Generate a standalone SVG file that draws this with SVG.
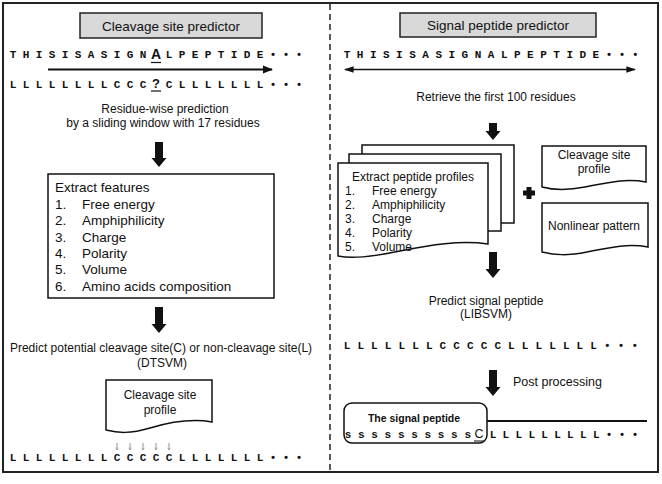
<svg xmlns="http://www.w3.org/2000/svg" width="662" height="484" viewBox="0 0 662 484">
<style>
.t{font-family:"Liberation Sans",Arial,sans-serif;font-size:12px;fill:#111}
.tc{text-anchor:middle}
.ti{font-family:"Liberation Sans",Arial,sans-serif;font-size:13.5px;fill:#111;text-anchor:middle}
.fl{font-family:"Liberation Sans",Arial,sans-serif;font-size:13.5px;fill:#111}
.sq{font-family:"Liberation Mono","Courier New",monospace;font-weight:bold;font-size:11px;fill:#111;text-anchor:middle}
.box{fill:#fff;stroke:#111;stroke-width:1.5}
.tbox{fill:#d9d9d9;stroke:#222;stroke-width:1.5}
.big{fill:#111}
.thin{stroke:#111;fill:none}
.tiny{stroke:#777;stroke-width:0.8;fill:none}
</style>
<defs>
<marker id="ah" viewBox="0 0 10 10" refX="9" refY="5" markerWidth="5" markerHeight="5" orient="auto-start-reverse" markerUnits="strokeWidth">
<path d="M0,1 L10,5 L0,9 Z" fill="#111"/>
</marker>
<marker id="ah2" viewBox="0 0 10 10" refX="9" refY="5" markerWidth="6" markerHeight="6" orient="auto-start-reverse" markerUnits="strokeWidth">
<path d="M0,1.5 L10,5 L0,8.5 Z" fill="#111"/>
</marker>
<marker id="tiny" viewBox="0 0 10 10" refX="5" refY="9" markerWidth="4" markerHeight="4" orient="0" markerUnits="userSpaceOnUse">
<path d="M1,3 L5,9 L9,3" fill="none" stroke="#777" stroke-width="1.2"/>
</marker>
</defs>
<rect x="0" y="0" width="662" height="484" fill="#fff"/>
<g id="frame">
<rect x="3" y="3" width="655" height="469" fill="none" stroke="#222" stroke-width="2"/>
<line x1="330" y1="4" x2="330" y2="471" stroke="#222" stroke-width="1.5" stroke-dasharray="6,4"/>
</g>

<g id="left-title">
<rect class="tbox" x="80" y="13" width="182" height="25"/>
<text class="ti" x="171" y="30.5">Cleavage site predictor</text>
</g>

<g id="left-seq1">
<text class="sq" y="58" x="13 26 39 52 65 78 91 104 117 130 143">THISISASIGN</text>
<text x="156" y="59" style="font-family:'Liberation Sans',Arial,sans-serif;font-weight:bold;font-size:14px;fill:#111;text-anchor:middle">A</text>
<line x1="151" y1="62.5" x2="161" y2="62.5" stroke="#111" stroke-width="1.2"/>
<text class="sq" y="58" x="169 182 195 208 221 234 247 260 273 286 299">LPEPTIDE•••</text>
</g>

<g id="left-seq2">
<text class="sq" y="88" x="13 26 39 52 65 78 91 104 117 130 143">LLLLLLLLCCC</text>
<text x="156" y="88" style="font-family:'Liberation Sans',Arial,sans-serif;font-weight:bold;font-size:13px;fill:#111;text-anchor:middle">?</text>
<line x1="151" y1="91" x2="161" y2="91" stroke="#111" stroke-width="1.2"/>
<text class="sq" y="88" x="169 182 195 208 221 234 247 260 273 286 299">CLLLLLLL•••</text>
</g>

<g id="left-window">
<text class="t tc" x="165" y="113">Residue-wise prediction</text>
<text class="t tc" x="163" y="127">by a sliding window with 17 residues</text>
</g>

<g id="features">
<rect class="box" x="48" y="174" width="226" height="124"/>
<text class="fl" x="55" y="192">Extract features</text>
<text class="fl" x="55" y="209">1.</text><text class="fl" x="82" y="209">Free energy</text>
<text class="fl" x="55" y="225">2.</text><text class="fl" x="82" y="225">Amphiphilicity</text>
<text class="fl" x="55" y="242">3.</text><text class="fl" x="82" y="242">Charge</text>
<text class="fl" x="55" y="258">4.</text><text class="fl" x="82" y="258">Polarity</text>
<text class="fl" x="55" y="274">5.</text><text class="fl" x="82" y="274">Volume</text>
<text class="fl" x="55" y="291">6.</text><text class="fl" x="82" y="291">Amino acids composition</text>
</g>

<g id="left-predict">
<text class="t tc" x="161" y="352">Predict potential cleavage site(C) or non-cleavage site(L)</text>
<text class="t tc" x="162" y="367">(DTSVM)</text>
</g>

<g id="left-profile">
<path class="box" d="M106,380 H212 V422 C190,418 170,422 150,428 C130,434 118,433 106,430 Z"/>
<text class="t tc" x="160" y="399">Cleavage site</text>
<text class="t tc" x="160" y="414">profile</text>
</g>

<g id="left-result">
<text class="sq" y="461" x="13 26 39 52 65 78 91 104 117 130 143 156 169 182 195 208 221 234 247 260 273 286 299">LLLLLLLLCCCCCLLLLLLL•••</text>
</g>

<g id="right-title">
<rect class="tbox" x="400" y="13" width="196" height="24"/>
<text class="ti" x="498" y="30">Signal peptide predictor</text>
</g>

<g id="right-seq">
<text class="sq" y="58" x="347 360.1 373.2 386.3 399.4 412.5 425.6 438.7 451.8 464.9 478 491.1 504.2 517.3 530.4 543.5 556.6 569.7 582.8 595.9 609 622.1 635.2">THISISASIGNALPEPTIDE•••</text>
<text class="t tc" x="496" y="101">Retrieve the first 100 residues</text>
</g>

<g id="peptide-profiles">
<rect class="box" x="362" y="145" width="152" height="78"/>
<rect class="box" x="349" y="154" width="152" height="77"/>
<path class="box" d="M338,163 H488 V244 C460,240 430,245 400,251 C370,257 352,259 338,256 Z"/>
<text class="t tc" x="413" y="181">Extract peptide profiles</text>
<text class="t" x="345" y="195">1.</text><text class="t" x="372" y="195">Free energy</text>
<text class="t" x="345" y="209">2.</text><text class="t" x="372" y="209">Amphiphilicity</text>
<text class="t" x="345" y="223">3.</text><text class="t" x="372" y="223">Charge</text>
<text class="t" x="345" y="237">4.</text><text class="t" x="372" y="237">Polarity</text>
<text class="t" x="345" y="251">5.</text><text class="t" x="372" y="251">Volume</text>
</g>

<g id="plus">
<rect x="526.5" y="187" width="5" height="12" fill="#111"/>
<rect x="523" y="190.5" width="12" height="5" fill="#111"/>
</g>

<g id="right-profile">
<path class="box" d="M542,146 H646 V182 C625,178 605,183 585,187 C565,191 553,190 542,187 Z"/>
<text class="t tc" x="594" y="159">Cleavage site</text>
<text class="t tc" x="594" y="173">profile</text>
</g>

<g id="nonlinear">
<path class="box" d="M542,203 H648 V247 C627,243 607,248 587,252 C567,256 555,255 542,252 Z"/>
<text class="t tc" x="594" y="230">Nonlinear pattern</text>
</g>

<g id="right-predict">
<text class="t tc" x="486" y="305">Predict signal peptide</text>
<text class="t tc" x="486" y="318">(LIBSVM)</text>
<text class="sq" y="349" x="347 360.7 374.4 388.1 401.8 415.5 429.2 442.9 456.6 470.3 484 497.7 511.4 525.1 538.8 552.5 566.2 579.9 593.6 607.3 621 634.7">LLLLLLLCCCCCLLLLLLL•••</text>
<text class="t" x="513" y="386" style="font-size:12.5px">Post processing</text>
</g>

<g id="signal-peptide">
<rect x="344" y="403" width="143" height="40" rx="8" ry="8" fill="none" stroke="#111" stroke-width="1.5"/>
<text x="414" y="422" style="font-family:'Liberation Sans',Arial,sans-serif;font-weight:bold;font-size:10.5px;fill:#111;text-anchor:middle">The signal peptide</text>
<text class="sq" y="438" x="348 361.3 374.6 387.9 401.2 414.5 427.8 441.1 454.4 467.7">ssssssssss</text>
<text x="479" y="438" style="font-family:'Liberation Sans',Arial,sans-serif;font-size:12.5px;fill:#111;text-anchor:middle">C</text>
<line x1="474" y1="441" x2="484" y2="441" stroke="#111" stroke-width="1"/>
<text class="sq" y="438" x="493 505.9 518.8 531.7 544.6 557.5 570.4 583.3 596.2 609 622 635">LLLLLLLLL•••</text>
</g>

<g id="connectors">
<line class="thin" x1="48" y1="69.5" x2="272" y2="69.5" stroke-width="2" marker-end="url(#ah)"/>
<line class="thin" x1="345" y1="69.5" x2="635" y2="69.5" stroke-width="1.6" marker-start="url(#ah2)" marker-end="url(#ah2)"/>
<polygon class="big" points="155,142 163,142 163,158 166.5,158 159,167 151.5,158 155,158"/>
<polygon class="big" points="155,307 163,307 163,324 166.5,324 159,333 151.5,324 155,324"/>
<polygon class="big" points="489,123 497,123 497,131 500.5,131 493,140 485.5,131 489,131"/>
<polygon class="big" points="489,252 497,252 497,269 500.5,269 493,278 485.5,269 489,269"/>
<polygon class="big" points="489,370 497,370 497,387 500.5,387 493,396 485.5,387 489,387"/>
<line class="tiny" x1="117" y1="443" x2="117" y2="450" marker-end="url(#tiny)"/>
<line class="tiny" x1="130" y1="443" x2="130" y2="450" marker-end="url(#tiny)"/>
<line class="tiny" x1="143" y1="443" x2="143" y2="450" marker-end="url(#tiny)"/>
<line class="tiny" x1="156" y1="443" x2="156" y2="450" marker-end="url(#tiny)"/>
<line class="tiny" x1="169" y1="443" x2="169" y2="450" marker-end="url(#tiny)"/>
<line x1="487" y1="421" x2="647" y2="421" stroke="#111" stroke-width="2"/>
</g>
</svg>
